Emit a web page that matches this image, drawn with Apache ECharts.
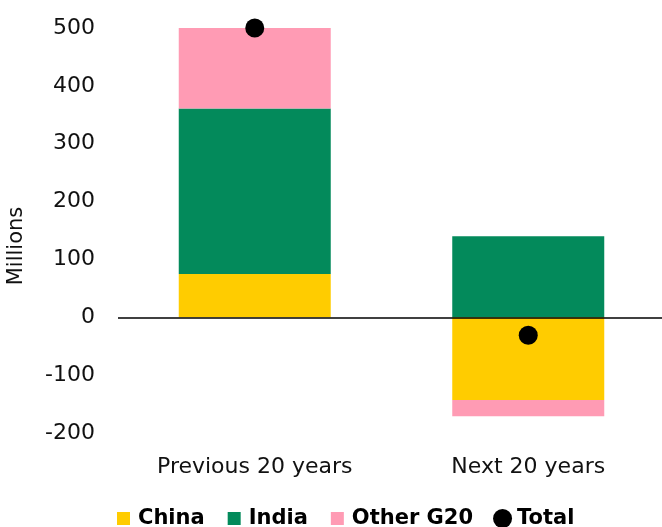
<!DOCTYPE html>
<html>
<head>
<meta charset="utf-8">
<script src="https://cdn.jsdelivr.net/npm/echarts@6/dist/echarts.min.js"></script>
<style>
  html, body { margin: 0; padding: 0; background: #fff; }
  #chart { width: 662px; height: 527px; }
</style>
</head>
<body>
<div id="chart"></div>
<script>
// Change in working-age population, millions (stack segments)
const categories = ['Previous 20 years', 'Next 20 years'];
const china = [75, -143];
const india = [286, 140];
const otherG20 = [139, -28];
const total = [500, -31];
const yTicks = [-200, -100, 0, 100, 200, 300, 400, 500];

const FONT = 'DejaVu Sans';
const colors = { china: '#FFCC00', india: '#038A5B', other: '#FF9BB4', total: '#000000' };

// Square legend icon padded inside a 19x19 box so it sits smaller than the circle
const squareIcon = 'path://M0,0M19,19M3,3h13v13h-13z';

const chart = echarts.init(document.getElementById('chart'), null, { renderer: 'canvas' });
chart.setOption({
  animation: false,
  backgroundColor: '#fff',
  textStyle: { fontFamily: FONT },
  grid: { left: 118, right: -3, top: 28, bottom: 94, containLabel: false, outerBoundsMode: 'none' },
  graphic: [{
    type: 'text',
    x: 17,
    y: 246,
    rotation: Math.PI / 2,
    style: {
      text: 'Millions',
      align: 'center',
      verticalAlign: 'middle',
      fontFamily: FONT,
      fontSize: 21,
      fill: '#111'
    }
  }],
  legend: {
    left: 109,
    top: 503,
    itemWidth: 19,
    itemHeight: 19,
    itemGap: 20,
    textStyle: { fontFamily: FONT, fontSize: 21, fontWeight: 'bold', color: '#000' },
    data: [
      { name: 'China', icon: squareIcon },
      { name: 'India', icon: squareIcon },
      { name: 'Other G20', icon: squareIcon },
      { name: 'Total', icon: 'circle' }
    ]
  },
  xAxis: {
    type: 'category',
    data: categories,
    axisLine: { show: false, onZero: false },
    axisTick: { show: false },
    axisLabel: { fontFamily: FONT, fontSize: 22, color: '#111', margin: 23 }
  },
  yAxis: {
    type: 'value',
    min: yTicks[0],
    max: yTicks[yTicks.length - 1],
    interval: 100,
    axisLine: { show: false },
    axisTick: { show: false },
    splitLine: { show: false },
    axisLabel: { fontFamily: FONT, fontSize: 22, color: '#111', margin: 23 }
  },
  series: [
    {
      name: 'China', type: 'bar', stack: 'pop', data: china, barWidth: 152,
      itemStyle: { color: colors.china },
      markLine: {
        silent: true, symbol: 'none', label: { show: false },
        lineStyle: { color: '#000', width: 1.5, type: 'solid' },
        data: [{ yAxis: 0 }]
      },
      z: 2
    },
    { name: 'India', type: 'bar', stack: 'pop', data: india, barWidth: 152, itemStyle: { color: colors.india } },
    { name: 'Other G20', type: 'bar', stack: 'pop', data: otherG20, barWidth: 152, itemStyle: { color: colors.other } },
    {
      name: 'Total', type: 'scatter', data: total, symbol: 'circle', symbolSize: 19,
      itemStyle: { color: colors.total, opacity: 1 }, z: 5
    }
  ]
});
</script>
</body>
</html>
